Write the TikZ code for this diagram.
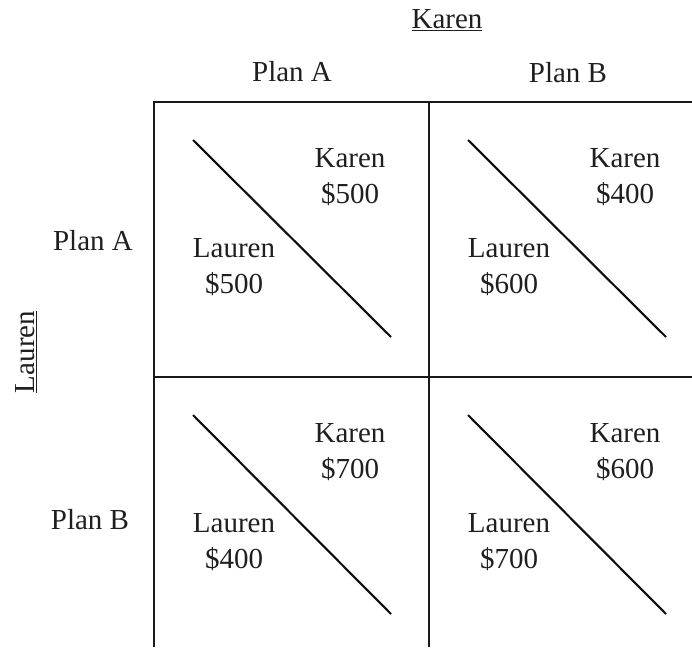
\documentclass[tikz,border=0pt]{standalone}
\usepackage{fontspec}
\setmainfont{Liberation Serif}
\begin{document}
\begin{tikzpicture}[x=1pt,y=-1pt,
  every node/.style={font=\fontsize{29}{36}\selectfont, inner sep=0pt, text=black!88},
  cell/.style={align=center},
  gridline/.style={line width=2.5pt, black!90},
  diag/.style={line width=2.1pt, black!95}]
\useasboundingbox (0,0) rectangle (692,647);
% grid
\draw[gridline] (154,647) -- (154,102) -- (692,102);
\draw[gridline] (429,102) -- (429,647);
\draw[gridline] (154,377) -- (692,377);
% headers
\node (topK) at (447,20) {\underline{Karen}};
\node (cA) at (292,72) {Plan A};
\node (cB) at (568,73) {Plan B};
\node (rA) at (93,241) {Plan A};
\node (rB) at (90,520) {Plan B};
\node[rotate=90] (sideL) at (26,352) {\underline{Lauren}};
% diagonals
\coordinate (d1a) at (193,140); \coordinate (d1b) at (391,337);
\coordinate (d2a) at (468,140); \coordinate (d2b) at (666,337);
\coordinate (d3a) at (193,415); \coordinate (d3b) at (391,614);
\coordinate (d4a) at (468,415); \coordinate (d4b) at (666,614);
\draw[diag] (d1a) -- (d1b);
\draw[diag] (d2a) -- (d2b);
\draw[diag] (d3a) -- (d3b);
\draw[diag] (d4a) -- (d4b);
% payoffs
\node[cell] (k1) at (350,177) {Karen\\\$500};
\node[cell] (l1) at (234,267) {Lauren\\\$500};
\node[cell] (k2) at (625,177) {Karen\\\$400};
\node[cell] (l2) at (509,267) {Lauren\\\$600};
\node[cell] (k3) at (350,452) {Karen\\\$700};
\node[cell] (l3) at (234,542) {Lauren\\\$400};
\node[cell] (k4) at (625,452) {Karen\\\$600};
\node[cell] (l4) at (509,542) {Lauren\\\$700};
\end{tikzpicture}
\end{document}
